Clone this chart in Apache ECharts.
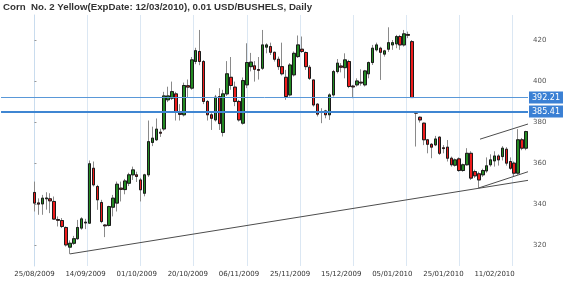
<!DOCTYPE html>
<html>
<head>
<meta charset="utf-8">
<script src="https://cdn.jsdelivr.net/npm/echarts@6/dist/echarts.min.js"></script>
<style>html,body{margin:0;padding:0;background:#fff}#c{width:570px;height:285px}</style>
</head>
<body>
<div id="c"></div>
<script>
const titleText = 'Corn  No. 2 Yellow(ExpDate: 12/03/2010), 0.01 USD/BUSHELS, Daily';
const tickLabels = ['25/08/2009','14/09/2009','01/10/2009','20/10/2009','06/11/2009','25/11/2009','15/12/2009','05/01/2010','25/01/2010','11/02/2010'];
const labelStep = 13;
const padSlots = 8;
const yTicks = [320, 340, 360, 380, 400, 420];
const gridDays = [0, 13.5, 27, 40.5, 54, 67.5, 81, 94.5, 108, 121.5];
const levels = [392.21, 385.41];

const opens = [345.9,340.8,340.3,342.8,342.8,341.5,332.7,332.2,328.8,319.2,321.1,323.3,328.5,331.0,330.9,357.7,348.8,341.0,330.0,329.8,
338.7,340.7,348.0,347.3,350.4,354.5,354.5,352.0,345.5,354.5,370.3,371.6,375.3,376.9,391.1,391.9,394.0,384.6,383.8,398.0,
396.8,409.8,414.7,409.8,390.3,383.8,381.3,392.7,375.2,394.0,402.1,397.3,390.3,379.7,398.4,407.3,407.7,405.9,406.5,416.8,
417.1,414.3,410.9,407.3,402.1,393.5,403.3,412.2,415.8,414.2,407.0,400.8,389.0,385.3,385.7,383.8,393.5,404.9,407.6,406.8,
409.8,397.8,398.4,399.7,398.4,403.8,409.3,415.5,416.3,413.4,415.8,417.9,418.4,422.0,417.9,423.0,419.5,385.4,382.6,379.7,
371.6,369.4,369.1,372.9,367.7,368.0,362.6,359.2,362.3,356.6,359.4,365.0,356.1,355.0,354.5,356.4,359.4,361.3,363.7,363.4,
367.0,361.0,360.2,355.3,371.6,367.5];
const closes = [340.7,340.2,343.1,343.2,341.8,332.9,332.3,329.3,320.3,321.1,323.3,328.8,333.0,331.4,359.9,349.6,342.3,331.7,329.6,339.0,
343.1,349.9,347.4,351.5,354.5,356.9,353.7,347.2,354.5,370.7,372.4,376.8,374.8,393.0,393.0,395.1,385.4,384.0,398.1,397.3,
410.6,415.1,409.8,390.3,383.8,382.1,392.4,379.5,394.0,403.8,398.1,390.3,381.3,400.5,409.3,409.5,406.0,405.5,417.9,417.9,
414.3,410.9,407.3,403.8,392.7,408.1,413.8,417.9,414.7,407.3,401.6,388.6,384.1,384.9,383.8,393.5,404.9,409.0,407.0,410.6,
397.6,397.4,400.3,399.3,405.2,409.3,416.3,417.9,414.3,415.0,419.0,419.0,422.0,417.9,423.3,422.6,392.2,384.6,381.3,371.6,
369.4,368.0,372.0,365.0,367.3,362.6,359.4,361.8,356.6,359.4,365.0,352.9,354.0,352.0,356.6,358.9,361.8,363.7,361.8,367.5,
360.2,357.7,355.3,371.6,367.5,375.6];
const lows = [336.6,335.0,335.0,337.5,335.8,332.5,329.3,328.5,319.5,315.9,320.3,322.8,327.7,328.0,330.6,348.8,337.4,330.9,324.1,329.3,
334.2,336.6,341.5,345.0,349.0,352.0,351.0,341.5,344.0,353.5,368.5,371.0,373.0,376.0,390.0,391.0,381.0,381.0,383.0,392.0,
396.0,408.5,408.0,389.0,381.0,376.4,380.5,376.4,373.2,393.0,396.0,388.0,380.5,379.0,396.8,405.0,400.0,401.0,405.7,413.8,
413.0,409.8,405.7,403.0,391.1,392.7,402.5,411.5,414.0,405.7,400.8,387.8,383.0,379.7,382.1,381.3,392.7,404.0,404.5,401.6,
396.8,391.9,397.6,398.0,397.6,401.6,408.1,414.7,400.8,412.2,414.5,415.5,416.3,415.5,417.1,421.2,392.2,368.3,380.0,369.0,
365.0,362.6,368.5,364.2,365.0,361.0,358.5,358.5,356.0,356.0,359.0,352.0,353.0,348.0,353.5,355.5,358.5,358.5,359.0,361.5,
359.0,357.0,353.7,354.5,366.5,366.5];
const highs = [351.2,343.0,344.7,346.0,345.5,343.9,334.2,333.4,329.3,322.5,324.7,332.5,333.8,333.0,361.5,361.0,349.6,342.3,330.4,339.4,
344.7,351.2,351.2,352.5,355.5,358.5,356.0,353.0,355.0,381.0,378.0,382.0,377.0,395.0,397.5,400.0,395.0,389.0,399.5,401.0,
412.0,416.5,425.2,410.5,391.0,384.6,393.5,396.8,396.0,410.0,412.0,400.0,391.1,402.0,418.7,414.0,410.0,412.0,425.2,418.7,
419.0,414.6,412.2,419.0,405.7,409.0,414.7,422.5,422.0,414.7,408.1,400.8,389.4,387.0,386.2,394.3,405.7,411.0,409.0,413.8,
410.6,398.4,401.6,406.0,405.7,409.8,417.9,419.0,417.0,415.5,426.5,420.3,422.8,422.8,425.2,424.4,420.3,385.4,383.0,380.0,
372.0,370.0,373.5,373.2,369.0,371.5,363.4,362.5,363.0,360.0,367.5,366.0,357.0,356.0,357.5,363.0,364.5,366.0,364.5,368.5,
368.0,363.0,361.0,376.8,372.5,376.0];

const trendLong = [[9, 315.9], [125.5, 351.8]];
const trendLow = [[113, 348.1], [125.5, 356.0]];
const trendHigh = [[113.3, 371.9], [125.5, 379.3]];

const n = opens.length;
const cats = [];
for (let k = 0; k < padSlots; k++) cats.push('p' + k);
for (let i = 0; i < n; i++) cats.push(String(i));
const wickData = [], bodyData = [];
for (let k = 0; k < padSlots; k++) { wickData.push('-'); bodyData.push('-'); }
for (let i = 0; i < n; i++) {
  wickData.push([opens[i], closes[i], lows[i], highs[i]]);
  bodyData.push([opens[i], closes[i], Math.min(opens[i], closes[i]), Math.max(opens[i], closes[i])]);
}

const chart = echarts.init(document.getElementById('c'), null, {renderer: 'canvas'});
const lineSeries = (d) => ({
  type: 'line', xAxisIndex: 1, yAxisIndex: 0, data: d, symbol: 'none', silent: true,
  lineStyle: {color: '#4d4d4d', width: 1}, z: 5, animation: false
});
chart.setOption({
  animation: false,
  title: {
    text: titleText, left: 3, top: 2, padding: 0,
    textStyle: {fontFamily: 'Liberation Sans', fontWeight: 'bold', fontSize: 9.7, color: '#333'}
  },
  grid: {left: 0, right: 42, top: 15, bottom: 19, containLabel: false},
  xAxis: [{
    type: 'category', data: cats, boundaryGap: true,
    axisLine: {show: false}, axisTick: {show: false}, splitLine: {show: false},
    axisLabel: {
      interval: 0, fontFamily: 'DejaVu Sans', fontSize: 7, color: '#333', margin: 5,
      formatter: (v) => {
        if (v[0] === 'p') return '';
        const i = +v;
        return i % labelStep === 0 ? (tickLabels[i / labelStep] || '') : '';
      }
    }
  }, {
    type: 'value', min: -padSlots - 0.5, max: n - 0.5,
    axisLine: {show: false}, axisLabel: {show: false},
    axisTick: {show: false, customValues: gridDays},
    splitLine: {show: true, lineStyle: {color: '#dbe7f3', width: 1}}
  }],
  yAxis: [{
    type: 'value', position: 'right', min: 310, max: 432.5, scale: true,
    axisLine: {show: true, lineStyle: {color: '#c9dcee'}},
    axisTick: {show: true, length: 2, customValues: yTicks, lineStyle: {color: '#999'}},
    axisLabel: {customValues: yTicks, fontFamily: 'DejaVu Sans', fontSize: 7, color: '#555', margin: 5},
    splitLine: {show: false}
  }],
  series: [{
    type: 'candlestick', data: wickData, barWidth: 3, silent: true, z: 2,
    itemStyle: {color: 'rgba(0,0,0,0)', color0: 'rgba(0,0,0,0)', borderColor: '#8a8a8a', borderColor0: '#8a8a8a', borderColorDoji: '#8a8a8a', borderWidth: 1}
  }, {
    type: 'candlestick', data: bodyData, barWidth: 3, silent: true, z: 3,
    itemStyle: {color: '#238a23', color0: '#ee1c1c', borderColor: '#1a1a1a', borderColor0: '#1a1a1a', borderColorDoji: '#1a1a1a', borderWidth: 1},
    markLine: {
      symbol: 'none', silent: true, animation: false,
      label: {
        position: 'end', distance: 1, formatter: (p) => p.value.toFixed(2),
        backgroundColor: '#3b80d4', color: '#fff', fontFamily: 'DejaVu Sans', fontSize: 8, padding: [2, 3, 2, 3]
      },
      data: [
        {yAxis: levels[0], lineStyle: {color: '#5a98d8', width: 1, type: 'solid'}},
        {yAxis: levels[1], lineStyle: {color: '#3f86d2', width: 2, type: 'solid'}}
      ]
    }
  },
  lineSeries(trendLong), lineSeries(trendLow), lineSeries(trendHigh)]
});
</script>
</body>
</html>
